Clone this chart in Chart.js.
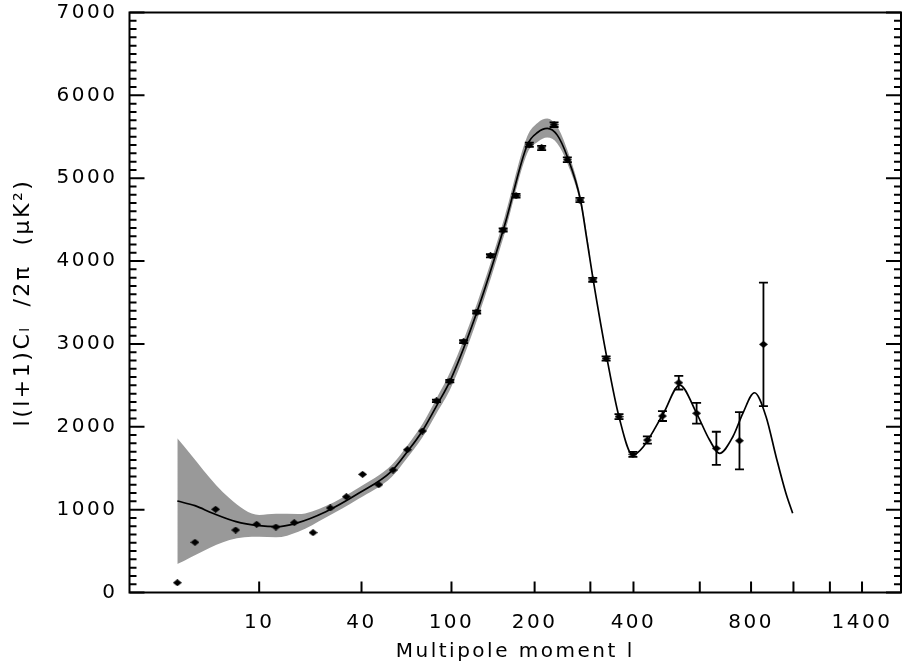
<!DOCTYPE html>
<html>
<head>
<meta charset="utf-8">
<script src="https://cdn.jsdelivr.net/npm/chart.js@4.4.0/dist/chart.umd.min.js"></script>
<style>
  html, body { margin: 0; padding: 0; background: #fff; }
  #wrap { width: 906px; height: 666px; }
</style>
</head>
<body>
<div id="wrap"><canvas id="spectrum" width="906" height="666"></canvas></div>
<script>
// measured band powers
const ell = [2, 3, 4.6, 6.7, 9.6, 13, 17, 22, 27.5, 33.5, 40.5, 48.5, 56.5, 65.5, 76, 87, 98.5, 111.5, 125, 140.5, 156, 173, 192, 211, 231.5, 255, 279, 305, 334, 364, 398.5, 437, 480, 530, 589, 660, 751, 855];
const power = [118, 606, 1004, 754, 823, 790, 843, 722, 1020, 1156, 1426, 1301, 1478, 1723, 1949, 2313, 2552, 3027, 3385, 4065, 4375, 4789, 5404, 5365, 5646, 5223, 4737, 3773, 2824, 2122, 1668, 1840, 2130, 2532, 2163, 1740, 1832, 2995];
const powerErr = [0, 0, 0, 0, 0, 0, 0, 0, 0, 0, 0, 0, 0, 0, 0, 15, 15, 18, 18, 20, 20, 22, 25, 25, 28, 28, 25, 25, 25, 30, 30, 44, 60, 82, 125, 200, 346, 746];

// best fit model curve
const modelEll = [2, 3, 4.35, 6.75, 10, 13, 17.4, 26, 38.7, 55.7, 65.5, 76, 87, 99.8, 126, 158, 189, 205, 220, 237, 255, 280, 293, 306, 336, 364, 398, 426, 483, 533, 589, 635, 672, 724, 765, 815, 867, 914, 962, 996];
const modelPower = [1104, 1048, 956, 855, 806, 794, 835, 975, 1197, 1466, 1700, 1950, 2250, 2585, 3409, 4435, 5401, 5555, 5602, 5520, 5259, 4737, 4254, 3771, 2826, 2122, 1660, 1760, 2163, 2504, 2163, 1840, 1680, 1880, 2163, 2411, 2122, 1639, 1197, 956];

// cosmic variance band around the model
const bandEll = [2, 6, 10, 13, 18, 26, 38.7, 55.7, 65.5, 76, 87, 99.8, 126, 158, 189, 205, 220, 237, 255, 280, 300];
const bandHigh = [1861, 1137, 935, 950, 947, 1045, 1265, 1540, 1775, 2030, 2340, 2690, 3510, 4535, 5505, 5670, 5720, 5620, 5340, 4790, 4060];
const bandLow = [344, 634, 674, 666, 734, 905, 1130, 1395, 1625, 1870, 2160, 2480, 3310, 4335, 5300, 5440, 5490, 5420, 5180, 4690, 4020];

// axes
const xTickValues = [10, 40, 100, 200, 300, 400, 600, 800, 1000, 1200, 1400];
const xTickLabels = [10, 40, 100, 200, 400, 800, 1400];
const xMin = 0.51, xMax = 1675;
const yMin = 0, yMax = 7000;

// x axis is linear in l^(1/4)
class QuarterPowerScale extends Chart.Scale {
  static id = 'quarterPower';
  static defaults = {};
  determineDataLimits() {
    this.min = this.options.min;
    this.max = this.options.max;
  }
  buildTicks() {
    return xTickValues.map(v => ({ value: v }));
  }
  getLabelForValue(v) {
    return String(v);
  }
  configure() {
    super.configure();
    this._lo = Math.pow(this.min, 0.25);
    this._hi = Math.pow(this.max, 0.25);
  }
  getPixelForValue(v) {
    return this.getPixelForDecimal((Math.pow(v, 0.25) - this._lo) / (this._hi - this._lo));
  }
  getValueForPixel(p) {
    const d = this.getDecimalForPixel(p);
    return Math.pow(this._lo + d * (this._hi - this._lo), 4);
  }
}
Chart.register(QuarterPowerScale);

const toPts = (xs, ys) => xs.map((x, i) => ({ x: x, y: ys[i] }));

// small flat diamond marker
const diamond = document.createElement('canvas');
diamond.width = 9;
diamond.height = 7;
const dctx = diamond.getContext('2d');
dctx.fillStyle = '#000';
dctx.beginPath();
dctx.moveTo(0, 3.5);
dctx.lineTo(4.5, 0);
dctx.lineTo(9, 3.5);
dctx.lineTo(4.5, 7);
dctx.closePath();
dctx.fill();

// the original lettering is wide, so space the glyphs out a bit
const spacing = {
  id: 'spacing',
  beforeUpdate(chart) { chart.ctx.letterSpacing = '2.5px'; },
  beforeDraw(chart) { chart.ctx.letterSpacing = '2.5px'; }
};

const errorBars = {
  id: 'errorBars',
  afterDatasetsDraw(chart) {
    const { ctx, scales: { x, y } } = chart;
    ctx.save();
    ctx.strokeStyle = '#000';
    ctx.lineWidth = 1.8;
    ell.forEach((l, i) => {
      const e = powerErr[i];
      if (!e) return;
      const px = x.getPixelForValue(l);
      const top = y.getPixelForValue(power[i] + e);
      const bot = y.getPixelForValue(power[i] - e);
      ctx.beginPath();
      ctx.moveTo(px, top); ctx.lineTo(px, bot);
      ctx.moveTo(px - 4.5, top); ctx.lineTo(px + 4.5, top);
      ctx.moveTo(px - 4.5, bot); ctx.lineTo(px + 4.5, bot);
      ctx.stroke();
    });
    ctx.restore();
  }
};

// box frame with inward ticks
const frame = {
  id: 'frame',
  afterDraw(chart) {
    const { ctx, chartArea: a, scales: { x, y } } = chart;
    ctx.save();
    ctx.strokeStyle = '#000';
    ctx.lineWidth = 2;
    ctx.strokeRect(a.left, a.top, a.right - a.left, a.bottom - a.top);
    ctx.beginPath();
    for (let v = yMin; v <= yMax; v += 100) {
      const py = y.getPixelForValue(v);
      const len = v % 1000 === 0 ? 15 : 7;
      ctx.moveTo(a.left, py); ctx.lineTo(a.left + len, py);
      ctx.moveTo(a.right, py); ctx.lineTo(a.right - len, py);
    }
    xTickValues.forEach(v => {
      const px = x.getPixelForValue(v);
      ctx.moveTo(px, a.bottom); ctx.lineTo(px, a.bottom - 11);
    });
    ctx.stroke();
    ctx.restore();
  }
};

Chart.defaults.font.family = "'DejaVu Sans', sans-serif";
Chart.defaults.font.size = 20;
Chart.defaults.color = '#000';

new Chart(document.getElementById('spectrum'), {
  type: 'line',
  data: {
    datasets: [
      {
        label: 'data',
        data: toPts(ell, power),
        showLine: false,
        pointStyle: diamond,
        pointRadius: 4,
        order: 0
      },
      {
        label: 'model',
        data: toPts(modelEll, modelPower),
        borderColor: '#000',
        borderWidth: 1.7,
        pointRadius: 0,
        cubicInterpolationMode: 'monotone',
        fill: false,
        order: 1
      },
      {
        label: 'band high',
        data: toPts(bandEll, bandHigh),
        borderWidth: 0,
        pointRadius: 0,
        cubicInterpolationMode: 'monotone',
        backgroundColor: '#999999',
        fill: '+1',
        order: 2
      },
      {
        label: 'band low',
        data: toPts(bandEll, bandLow),
        borderWidth: 0,
        pointRadius: 0,
        cubicInterpolationMode: 'monotone',
        fill: false,
        order: 3
      }
    ]
  },
  options: {
    responsive: false,
    animation: false,
    layout: { padding: { top: 12.5, right: 0, left: 0, bottom: 0 } },
    plugins: {
      legend: { display: false },
      tooltip: { enabled: false }
    },
    scales: {
      x: {
        type: 'quarterPower',
        min: xMin,
        max: xMax,
        grid: { display: false, drawTicks: false },
        border: { display: false },
        ticks: {
          autoSkip: false,
          maxRotation: 0,
          padding: 18,
          callback: v => (xTickLabels.includes(v) ? String(v) : '')
        },
        title: {
          display: true,
          text: 'Multipole moment l',
          font: { size: 20 },
          padding: { top: 0, bottom: 2 }
        },
        afterFit: s => {
          s.height = 73.5;
          s.paddingLeft = 0;
          s.paddingRight = 0;
        }
      },
      y: {
        min: yMin,
        max: yMax,
        grid: { display: false, drawTicks: false },
        border: { display: false },
        ticks: { stepSize: 1000, padding: 12, callback: v => String(v) },
        title: {
          display: true,
          text: 'l(l+1)Cₗ  /2π  (μK²)',
          font: { size: 22 },
          padding: { top: 10, bottom: 0 }
        },
        afterFit: s => {
          s.width = 129.5;
          s.paddingTop = 0;
          s.paddingBottom = 0;
        }
      }
    }
  },
  plugins: [spacing, errorBars, frame]
});
</script>
</body>
</html>
